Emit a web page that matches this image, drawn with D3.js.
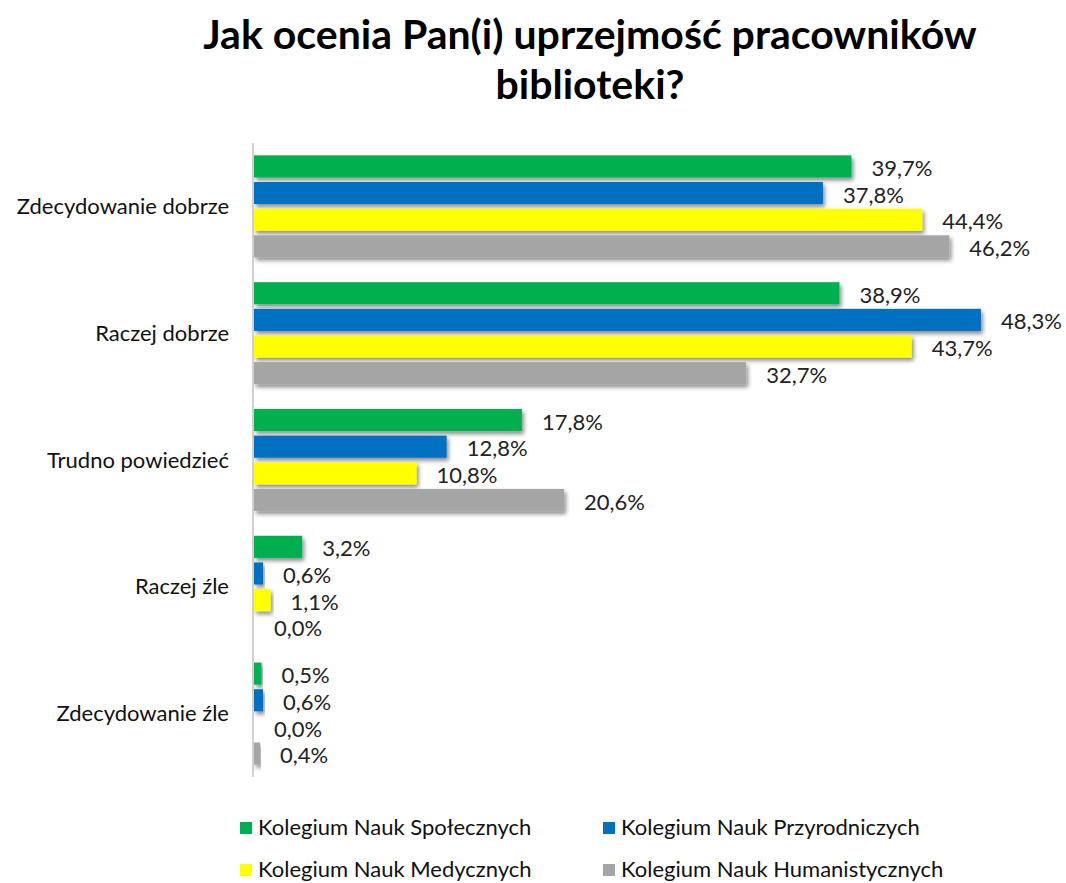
<!DOCTYPE html>
<html>
<head>
<meta charset="utf-8">
<script src="https://cdn.jsdelivr.net/npm/d3@7"></script>
<style>
  body { margin: 0; background: #fff; }
  svg { display: block; font-family: 'Lato', 'Open Sans', sans-serif; }
</style>
</head>
<body>
<script>
// answers and colleges
const categories = ['Zdecydowanie dobrze', 'Raczej dobrze', 'Trudno powiedzieć', 'Raczej źle', 'Zdecydowanie źle'];
const series = ['Kolegium Nauk Społecznych', 'Kolegium Nauk Przyrodniczych', 'Kolegium Nauk Medycznych', 'Kolegium Nauk Humanistycznych'];
const colors = ['#00b050', '#0070c0', '#ffff00', '#a5a5a5'];

// percentages, one array per college, in category order
const spoleczne = [39.7, 38.9, 17.8, 3.2, 0.5];
const przyrodnicze = [37.8, 48.3, 12.8, 0.6, 0.6];
const medyczne = [44.4, 43.7, 10.8, 1.1, 0.0];
const humanistyczne = [46.2, 32.7, 20.6, 0.0, 0.4];
const values = [spoleczne, przyrodnicze, medyczne, humanistyczne];

const width = 1066, height = 883;
const margin = {top: 143, bottom: 106, left: 254};

const svg = d3.select('body').append('svg')
  .attr('width', width)
  .attr('height', height);

const defs = svg.append('defs');
const shadow = defs.append('filter').attr('id', 'shadow')
  .attr('x', '-5%').attr('y', '-30%').attr('width', '120%').attr('height', '180%');
shadow.append('feDropShadow')
  .attr('dx', 2).attr('dy', 3).attr('stdDeviation', 2)
  .attr('flood-color', '#000').attr('flood-opacity', 0.45);

// title
const title = svg.append('text')
  .attr('text-anchor', 'middle')
  .attr('font-size', 41)
  .attr('font-weight', 'bold')
  .attr('fill', '#000');
title.append('tspan').attr('x', 590).attr('y', 49).text('Jak ocenia Pan(i) uprzejmość pracowników');
title.append('tspan').attr('x', 590).attr('y', 99).text('biblioteki?');

const y0 = d3.scaleBand()
  .domain(categories)
  .range([margin.top, height - margin.bottom])
  .paddingInner(0.195)
  .paddingOuter(0.0975);

const y1 = d3.scaleBand()
  .domain(d3.range(series.length))
  .range([0, y0.bandwidth()])
  .paddingInner(0.17);

const x = d3.scaleLinear()
  .domain([0, 50])
  .range([margin.left, margin.left + 752.5]);

const rows = [];
categories.forEach((c, ci) => {
  series.forEach((s, si) => {
    rows.push({cat: c, si, v: values[si][ci]});
  });
});

const fmt = v => d3.format('.1f')(v).replace('.', ',') + '%';

svg.append('g').selectAll('rect')
  .data(rows.filter(d => d.v > 0))
  .join('rect')
  .attr('x', x(0))
  .attr('y', d => y0(d.cat) + y1(d.si))
  .attr('width', d => x(d.v) - x(0))
  .attr('height', y1.bandwidth())
  .attr('fill', d => colors[d.si])
  .attr('filter', 'url(#shadow)');

svg.append('g').selectAll('text')
  .data(rows)
  .join('text')
  .attr('x', d => x(d.v) + 20)
  .attr('y', d => y0(d.cat) + y1(d.si) + y1.bandwidth() / 2 + 4)
  .attr('dominant-baseline', 'middle')
  .attr('font-size', 22)
  .attr('fill', '#222')
  .text(d => fmt(d.v));

// vertical axis line and category labels
svg.append('line')
  .attr('x1', margin.left - 1).attr('x2', margin.left - 1)
  .attr('y1', y0.range()[0]).attr('y2', y0.range()[1])
  .attr('stroke', '#d0d0d0')
  .attr('stroke-width', 2);

svg.append('g').selectAll('text')
  .data(categories)
  .join('text')
  .attr('x', 229)
  .attr('y', d => y0(d) + y0.bandwidth() / 2 + 2)
  .attr('text-anchor', 'end')
  .attr('dominant-baseline', 'middle')
  .attr('font-size', 22)
  .attr('fill', '#111')
  .text(d => d);

// legend
const legendPos = [[240, 828], [603, 828], [240, 870], [603, 870]];
const legend = svg.append('g').selectAll('g')
  .data(series)
  .join('g')
  .attr('transform', (d, i) => `translate(${legendPos[i][0]},${legendPos[i][1]})`);

legend.append('rect')
  .attr('x', 0).attr('y', -6)
  .attr('width', 12).attr('height', 12)
  .attr('fill', (d, i) => colors[i]);

legend.append('text')
  .attr('x', 18).attr('y', 1)
  .attr('dominant-baseline', 'middle')
  .attr('font-size', 22)
  .attr('fill', '#111')
  .text(d => d);
</script>
</body>
</html>
